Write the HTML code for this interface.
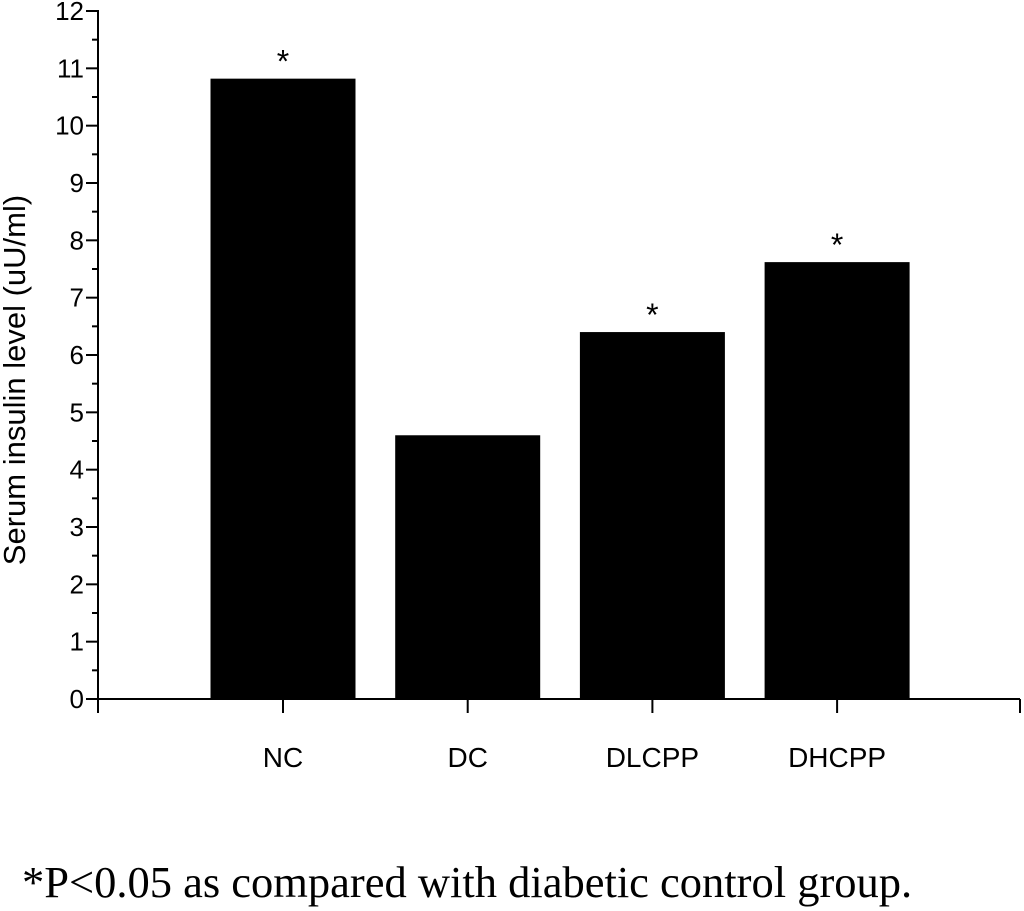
<!DOCTYPE html>
<html><head><meta charset="utf-8"><style>
body{margin:0;background:#fff;width:1024px;height:911px;overflow:hidden}
svg{display:block}
</style></head><body>
<svg id="chart" width="1024" height="911" xmlns="http://www.w3.org/2000/svg"></svg>
<script>
const categories=["NC","DC","DLCPP","DHCPP"];
const values=[10.82,4.6,6.4,7.62];
const significant=[true,false,true,true];
const yTicks=[0,1,2,3,4,5,6,7,8,9,10,11,12];
const svg=document.getElementById('chart');
const NS='http://www.w3.org/2000/svg';
const x0=98,y0=699,yTop=11,xEnd=1020;
function yScale(v){return y0-(v/12)*(y0-yTop);}
function xCenter(i){return 283+i*184.7;}
const barW=145;
function mk(tag,attrs,parent){const e=document.createElementNS(NS,tag);for(const k in attrs)e.setAttribute(k,attrs[k]);(parent||svg).appendChild(e);return e;}
categories.forEach((c,i)=>{
  const r=mk('rect',{x:xCenter(i)-barW/2,y:yScale(values[i]),width:barW,height:y0-yScale(values[i]),fill:'#000'});
  
  
  if(significant[i]){
    const s=mk('text',{x:xCenter(i),y:yScale(values[i])-6,'text-anchor':'middle','font-family':'Liberation Sans, sans-serif','font-size':'32'});
    s.textContent='*';
    
    
  }
  const t=mk('line',{x1:xCenter(i),x2:xCenter(i),y1:y0,y2:y0+14,stroke:'#000','stroke-width':2});
  
  
  const l=mk('text',{x:xCenter(i),y:767,'text-anchor':'middle','font-family':'Liberation Sans, sans-serif','font-size':'28'});
  l.textContent=c;
  
  
});
const ya=mk('line',{x1:x0,x2:x0,y1:yTop-1,y2:y0+14,stroke:'#000','stroke-width':2});


const xa=mk('line',{x1:x0-12,x2:xEnd,y1:y0,y2:y0,stroke:'#000','stroke-width':2});


const xe=mk('line',{x1:xEnd,x2:xEnd,y1:y0,y2:y0+14,stroke:'#000','stroke-width':2});


yTicks.forEach(v=>{
  const y=yScale(v);
  const t=mk('line',{x1:x0-12,x2:x0,y1:y,y2:y,stroke:'#000','stroke-width':2});
  
  
  if(v<12){const m=mk('line',{x1:x0-6,x2:x0,y1:yScale(v+0.5),y2:yScale(v+0.5),stroke:'#000','stroke-width':2});
  
  }
  const l=mk('text',{x:x0-14,y:y+9,'text-anchor':'end','font-family':'Liberation Sans, sans-serif','font-size':'26'});
  l.textContent=v;
  
  
});
const yt=mk('text',{x:25,y:380,'text-anchor':'middle','font-family':'Liberation Sans, sans-serif','font-size':'31',transform:'rotate(-90 25 380)'});
yt.textContent='Serum insulin level (uU/ml)';


const fn=mk('text',{x:22,y:897,'font-family':'Liberation Serif, serif','font-size':'44.5'});
fn.textContent='*P<0.05 as compared with diabetic control group.';


</script>
</body></html>
